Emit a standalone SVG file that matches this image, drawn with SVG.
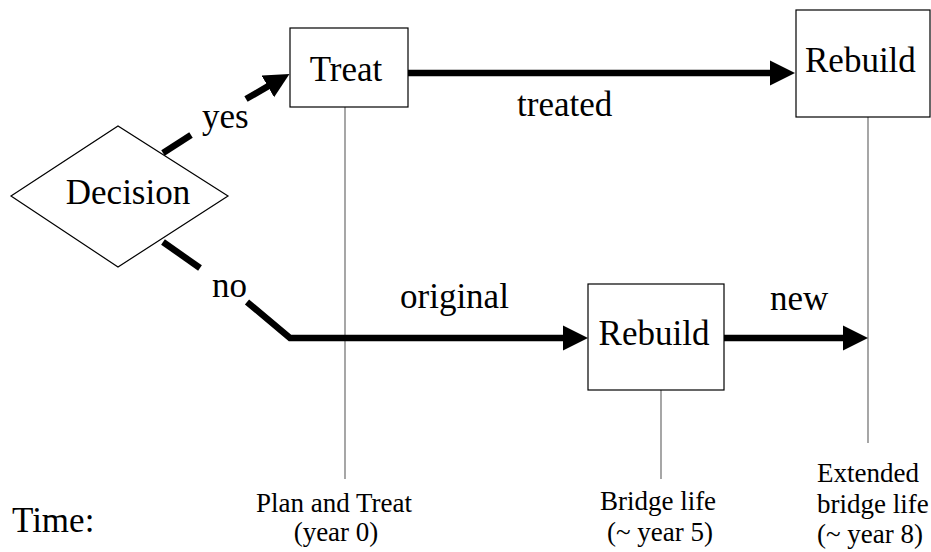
<svg xmlns="http://www.w3.org/2000/svg" width="931" height="552" viewBox="0 0 931 552">
<style>
text{font-family:"Liberation Serif","Times New Roman",serif;fill:#000}
.big{font-size:35px}
.small{font-size:27px}
.box{fill:#fff;stroke:#000;stroke-width:1.2}
.flow{fill:none;stroke:#000;stroke-width:6.5;stroke-linejoin:miter}
.time{fill:none;stroke:#777;stroke-width:1.3}
</style>
<defs>
<marker id="ah" markerUnits="userSpaceOnUse" markerWidth="26" markerHeight="26" viewBox="0 -13 26 26" refX="1" refY="0" orient="auto">
<path d="M0,-12.5 L25,0 L0,12.5 z" fill="#000"/>
</marker>
</defs>
<rect width="931" height="552" fill="#fff"/>
<g id="timelines">
<line class="time" x1="345" y1="107" x2="345" y2="479"/>
<line class="time" x1="661" y1="390" x2="661" y2="479"/>
<line class="time" x1="868" y1="117" x2="868" y2="443"/>
</g>
<g id="connectors">
<line class="flow" x1="163" y1="153" x2="191" y2="135"/>
<line class="flow" x1="246" y1="99" x2="268.7" y2="85.9" marker-end="url(#ah)"/>
<line class="flow" x1="408" y1="73" x2="771" y2="73" marker-end="url(#ah)"/>
<line class="flow" x1="163" y1="242" x2="200" y2="268"/>
<polyline class="flow" points="247,302 290,338 564,338" marker-end="url(#ah)"/>
<line class="flow" x1="724" y1="338" x2="844" y2="338" marker-end="url(#ah)"/>
<text class="big" x="202" y="128">yes</text>
<text class="big" x="212" y="297">no</text>
<text class="big" x="517" y="116">treated</text>
<text class="big" x="400" y="308">original</text>
<text class="big" x="770" y="310">new</text>
</g>
<g id="decision">
<polygon class="box" points="11,196 118,126 228,196 118,267"/>
<text class="big" x="128" y="204" text-anchor="middle">Decision</text>
</g>
<g id="treat">
<rect class="box" x="290" y="28" width="118" height="79"/>
<text class="big" x="346" y="81" text-anchor="middle">Treat</text>
</g>
<g id="rebuild-top">
<rect class="box" x="796" y="10" width="134" height="107"/>
<text class="big" x="805" y="72">Rebuild</text>
</g>
<g id="rebuild-bottom">
<rect class="box" x="588" y="284" width="136" height="106"/>
<text class="big" x="654" y="345" text-anchor="middle">Rebuild</text>
</g>
<g id="labels">
<text class="big" x="12" y="532">Time:</text>
<text class="small" x="334" y="512" text-anchor="middle">Plan and Treat</text>
<text class="small" x="336" y="541" text-anchor="middle">(year 0)</text>
<text class="small" x="658" y="510" text-anchor="middle">Bridge life</text>
<text class="small" x="660" y="541" text-anchor="middle">(~ year 5)</text>
<text class="small" x="817" y="482">Extended</text>
<text class="small" x="817" y="513">bridge life</text>
<text class="small" x="817" y="543">(~ year 8)</text>
</g>
</svg>
